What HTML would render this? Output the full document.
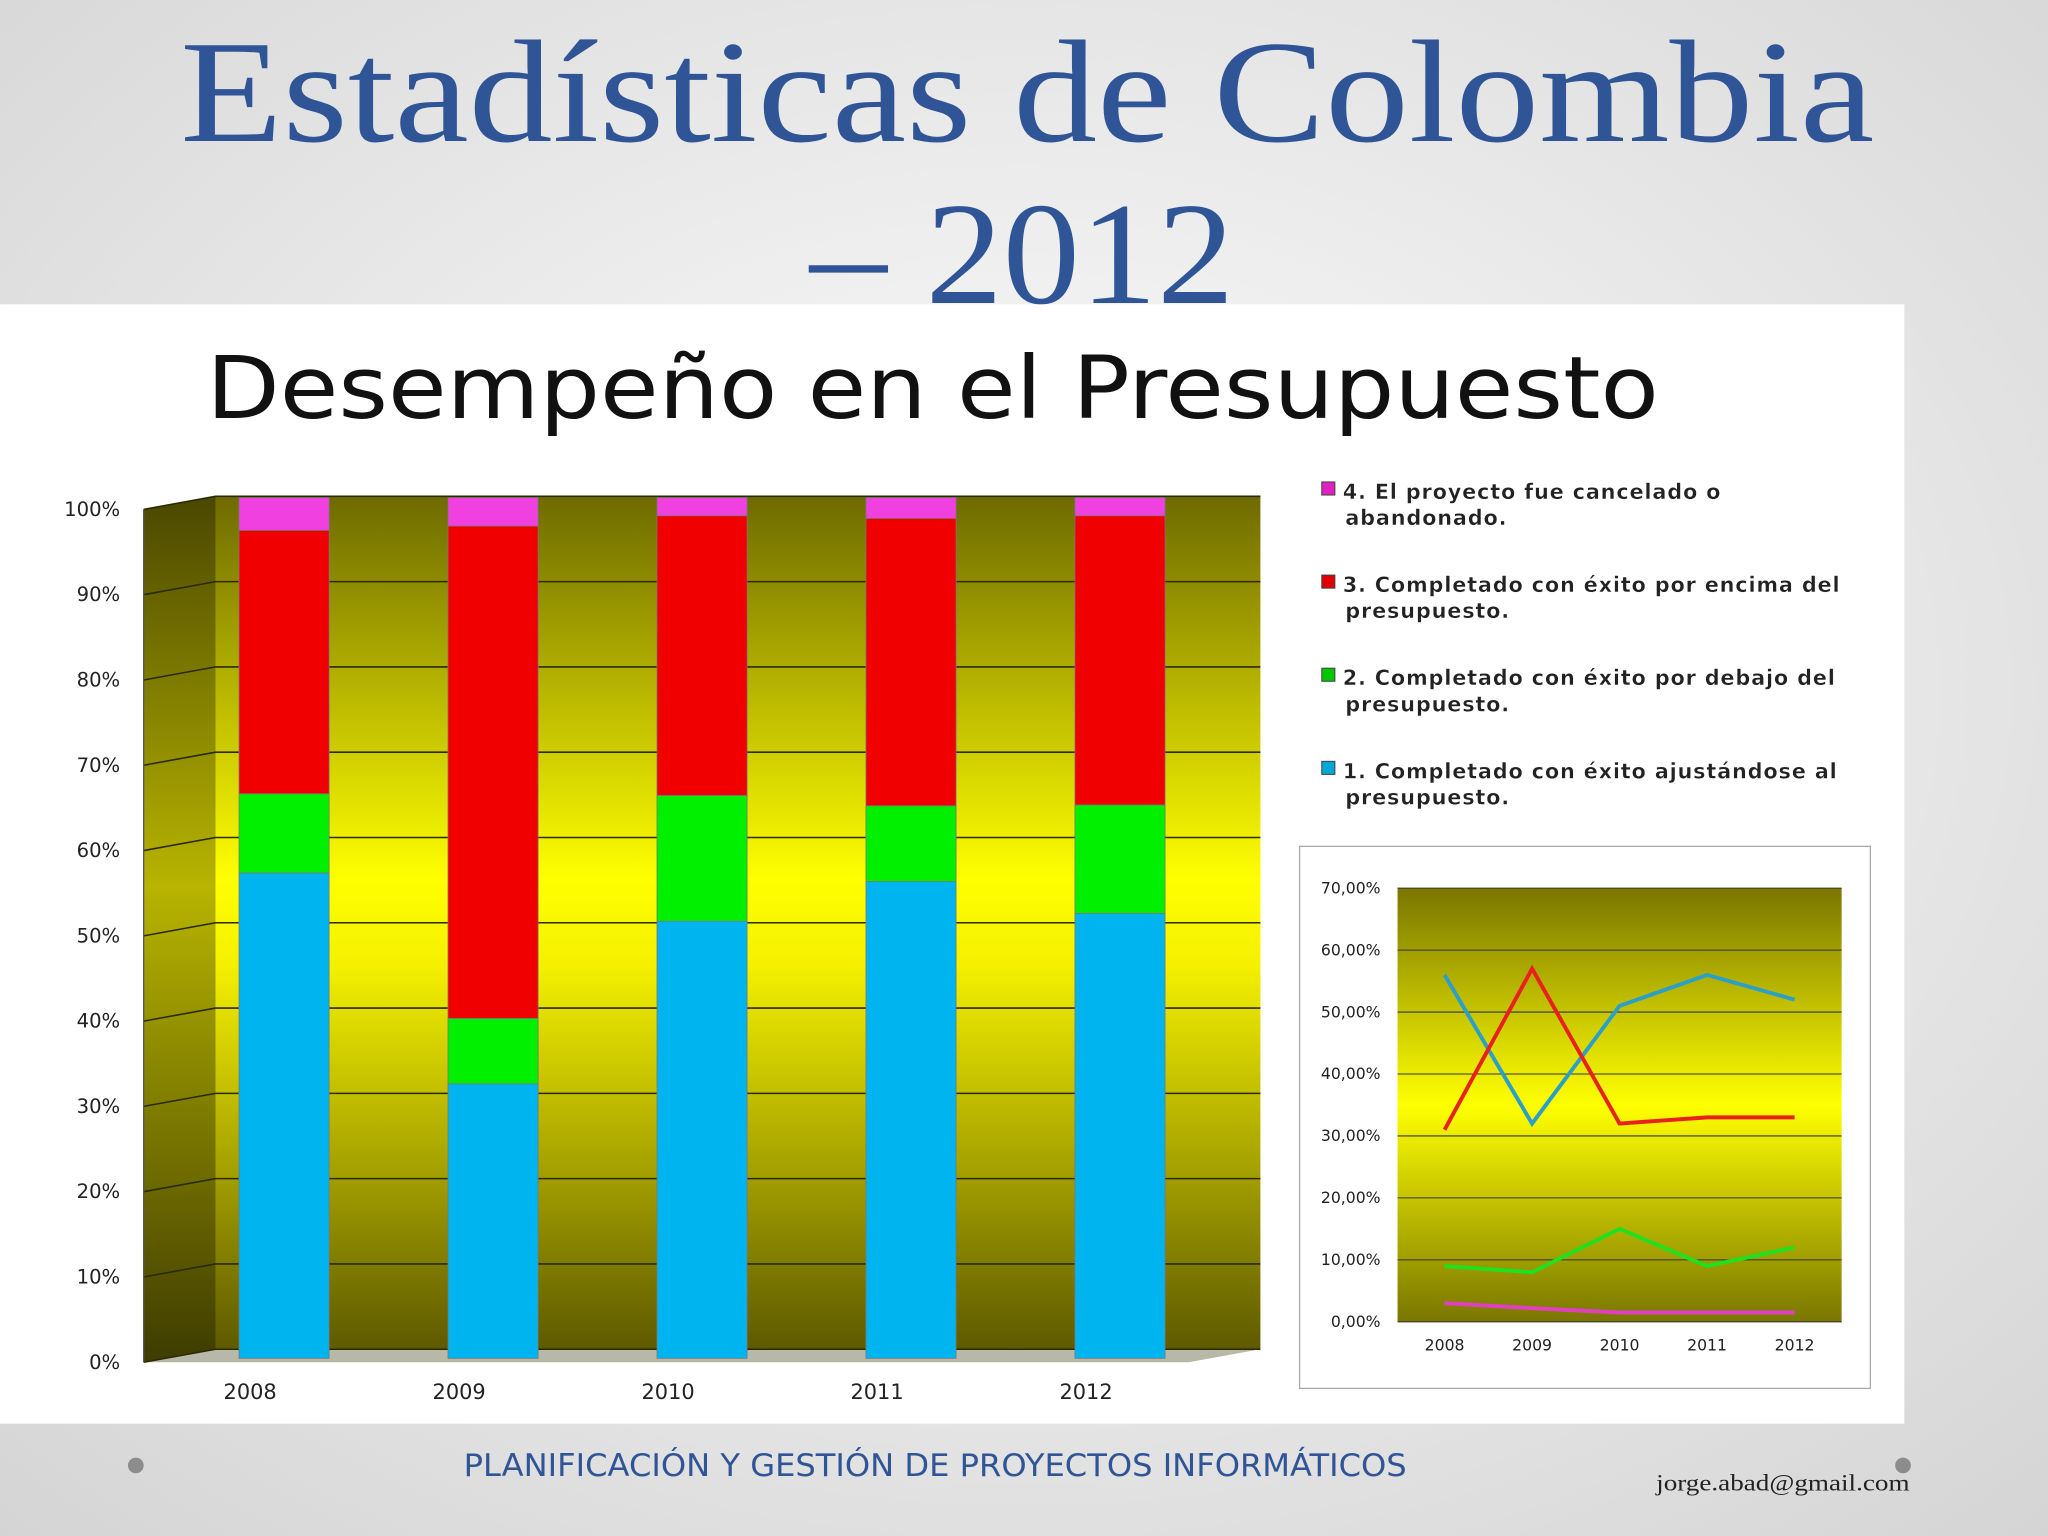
<!DOCTYPE html>
<html><head><meta charset="utf-8"><style>
html,body{margin:0;padding:0;width:2048px;height:1536px;overflow:hidden;}
svg{display:block}
</style></head><body>
<svg id="s" width="2048" height="1536" viewBox="0 0 1568 1176" xmlns="http://www.w3.org/2000/svg">
<defs>
<radialGradient id="bg" cx="50%" cy="45%" r="75%"><stop offset="0" stop-color="#ffffff"/><stop offset="1" stop-color="#d4d4d4"/></radialGradient>
<linearGradient id="plotg" x1="0" y1="0" x2="0" y2="1"><stop offset="0" stop-color="#6e6a00"/><stop offset="0.45" stop-color="#ffff00"/><stop offset="0.55" stop-color="#f4f000"/><stop offset="1" stop-color="#5e5a00"/></linearGradient>
<linearGradient id="wallg" x1="0" y1="0" x2="0" y2="1"><stop offset="0" stop-color="#4a4700"/><stop offset="0.45" stop-color="#b8b400"/><stop offset="1" stop-color="#3e3c00"/></linearGradient>
<linearGradient id="smallg" x1="0" y1="0" x2="0" y2="1"><stop offset="0" stop-color="#7a7600"/><stop offset="0.5" stop-color="#ffff00"/><stop offset="1" stop-color="#7a7600"/></linearGradient>
</defs>
<rect width="1568" height="1176" fill="url(#bg)"/>
<text x="138" y="108" textLength="1297" lengthAdjust="spacingAndGlyphs" font-family="Liberation Serif, serif" font-size="112" fill="#2f5597">Estadísticas de Colombia</text>
<text x="620" y="232" textLength="325" lengthAdjust="spacingAndGlyphs" font-family="Liberation Serif, serif" font-size="112" fill="#2f5597">– 2012</text>
<rect x="0" y="233" width="1458" height="857" fill="#ffffff"/>
<text x="158" y="320" textLength="1112" lengthAdjust="spacingAndGlyphs" font-family="DejaVu Sans, sans-serif" font-size="66" fill="#111">Desempeño en el Presupuesto</text>
<g id="main"></g>
<g id="legend"></g>
<g id="small"></g>
<circle cx="104" cy="1122" r="6" fill="#8c8c8c"/>
<circle cx="1457" cy="1122" r="6" fill="#8c8c8c"/>
<text x="355" y="1130" textLength="722" lengthAdjust="spacingAndGlyphs" font-family="DejaVu Sans, sans-serif" font-size="24" fill="#2f5597">PLANIFICACIÓN Y GESTIÓN DE PROYECTOS INFORMÁTICOS</text>
<text x="1268" y="1141" textLength="194" lengthAdjust="spacingAndGlyphs" font-family="Liberation Serif, serif" font-size="18" fill="#222">jorge.abad@gmail.com</text>
</svg>
<script>
const years = ["2008","2009","2010","2011","2012"];
const blueVals = [56.4, 31.9, 50.8, 55.4, 51.7];
const greenVals = [9.2, 7.6, 14.6, 8.8, 12.6];
const redVals = [30.6, 57.2, 32.5, 33.4, 33.6];
const pinkVals = [3.8, 3.3, 2.1, 2.4, 2.1];
const yTicks = [0,10,20,30,40,50,60,70,80,90,100];
const smallTicks = [0,10,20,30,40,50,60,70];
const lineBlue = [56, 32, 51, 56, 52];
const lineRed = [31, 57, 32, 33, 33];
const lineGreen = [9, 8, 15, 9, 12];
const linePink = [3, 2.2, 1.5, 1.5, 1.5];
const legendItems = [["4. El proyecto fue cancelado o","abandonado."],["3. Completado con éxito por encima del","presupuesto."],["2. Completado con éxito por debajo del","presupuesto."],["1. Completado con éxito ajustándose al","presupuesto."]];
const legendColors = ["#e020c0","#e00000","#00c800","#00a8d8"];

const NS="http://www.w3.org/2000/svg";
function mk(p,tag,a,txt){const e=document.createElementNS(NS,tag);for(const k in a)e.setAttribute(k,a[k]);if(txt!==undefined)e.textContent=txt;p.appendChild(e);return e;}
const g=document.getElementById('main');
const y0f=1043, pxf=6.53, dx=55, dy=-10;
const yF=v=>y0f-v*pxf;
const yB=v=>1040-v*6.59;
const xC=i=>217.5+i*160;
let e;
e=mk(g,'polygon',{points:`110,${yF(100)} 165,${yF(100)+dy} 165,${yF(0)+dy} 110,${yF(0)}`,fill:'url(#wallg)'});

e=mk(g,'rect',{x:165,y:yF(100)+dy,width:800,height:100*pxf,fill:'url(#plotg)'});

e=mk(g,'polygon',{points:`110,${yF(0)} 165,${yF(0)+dy} 965,${yF(0)+dy} 910,${yF(0)}`,fill:'#b8b8a8'});

yTicks.forEach(t=>{
  const y=yF(t);
  e=mk(g,'polyline',{points:`110,${y} 165,${y+dy} 965,${y+dy}`,fill:'none',stroke:'#2a2a00','stroke-width':1.2});
  
  e=mk(g,'text',{x:92,y:y+5,'text-anchor':'end','font-family':'DejaVu Sans, sans-serif','font-size':15,fill:'#222'},t+'%');
  
});
e=mk(g,'line',{x1:110,y1:yF(100),x2:110,y2:yF(0),stroke:'#555'});

const series=[[blueVals,'#00b4f0','bar-blue'],[greenVals,'#00f000','bar-green'],[redVals,'#f00000','bar-red'],[pinkVals,'#f040e0','bar-pink']];
years.forEach((yr,i)=>{
  let acc=0;
  series.forEach(([vals,col,nm])=>{
    const v=vals[i];
    e=mk(g,'rect',{x:xC(i)-34.5,y:yB(acc+v),width:69,height:v*6.59,fill:col,stroke:'#777','stroke-width':0.6});
    
    acc+=v;
  });
  e=mk(g,'text',{x:xC(i)-26,y:1071,'text-anchor':'middle','font-family':'DejaVu Sans, sans-serif','font-size':16,fill:'#222'},yr);
  
});
const L=document.getElementById('legend');
legendItems.forEach((it,i)=>{
  const y=376+i*71.3;
  e=mk(L,'rect',{x:1012,y:y-7,width:10,height:10,fill:legendColors[i],stroke:'#444','stroke-width':0.8});
  
  e=mk(L,'text',{x:1028,y:y+6,'font-family':'DejaVu Sans, sans-serif','font-size':16,'font-weight':'bold','stroke':'#fff','stroke-width':0.3,fill:'#222','letter-spacing':0.6},it[0]);
  
  e=mk(L,'text',{x:1030,y:y+26,'font-family':'DejaVu Sans, sans-serif','font-size':16,'font-weight':'bold','stroke':'#fff','stroke-width':0.3,fill:'#222','letter-spacing':0.6},it[1]);
  
});
const S=document.getElementById('small');
e=mk(S,'rect',{x:995,y:648,width:437,height:415,fill:'#fff',stroke:'#aaa'});

e=mk(S,'rect',{x:1070,y:680,width:340,height:332,fill:'url(#smallg)'});

const ys=v=>1012-v*4.743;
const xs=i=>1106+i*67;
smallTicks.forEach(t=>{
  e=mk(S,'line',{x1:1070,x2:1410,y1:ys(t),y2:ys(t),stroke:'#333','stroke-width':0.8});
  
  e=mk(S,'text',{x:1057,y:ys(t)+4,'text-anchor':'end','font-family':'DejaVu Sans, sans-serif','font-size':12,fill:'#222'},t+',00%');
  
});
years.forEach((yr,i)=>{
  e=mk(S,'text',{x:xs(i),y:1034,'text-anchor':'middle','font-family':'DejaVu Sans, sans-serif','font-size':12,fill:'#222'},yr);
  
});
[[lineBlue,'#2aa0c8','line-blue'],[lineRed,'#e82020','line-red'],[lineGreen,'#20e020','line-green'],[linePink,'#e040c0','line-pink']].forEach(([vals,col,nm])=>{
  e=mk(S,'polyline',{points:vals.map((v,i)=>xs(i)+','+ys(v)).join(' '),fill:'none',stroke:col,'stroke-width':3});
  
});
</script>
</body></html>
